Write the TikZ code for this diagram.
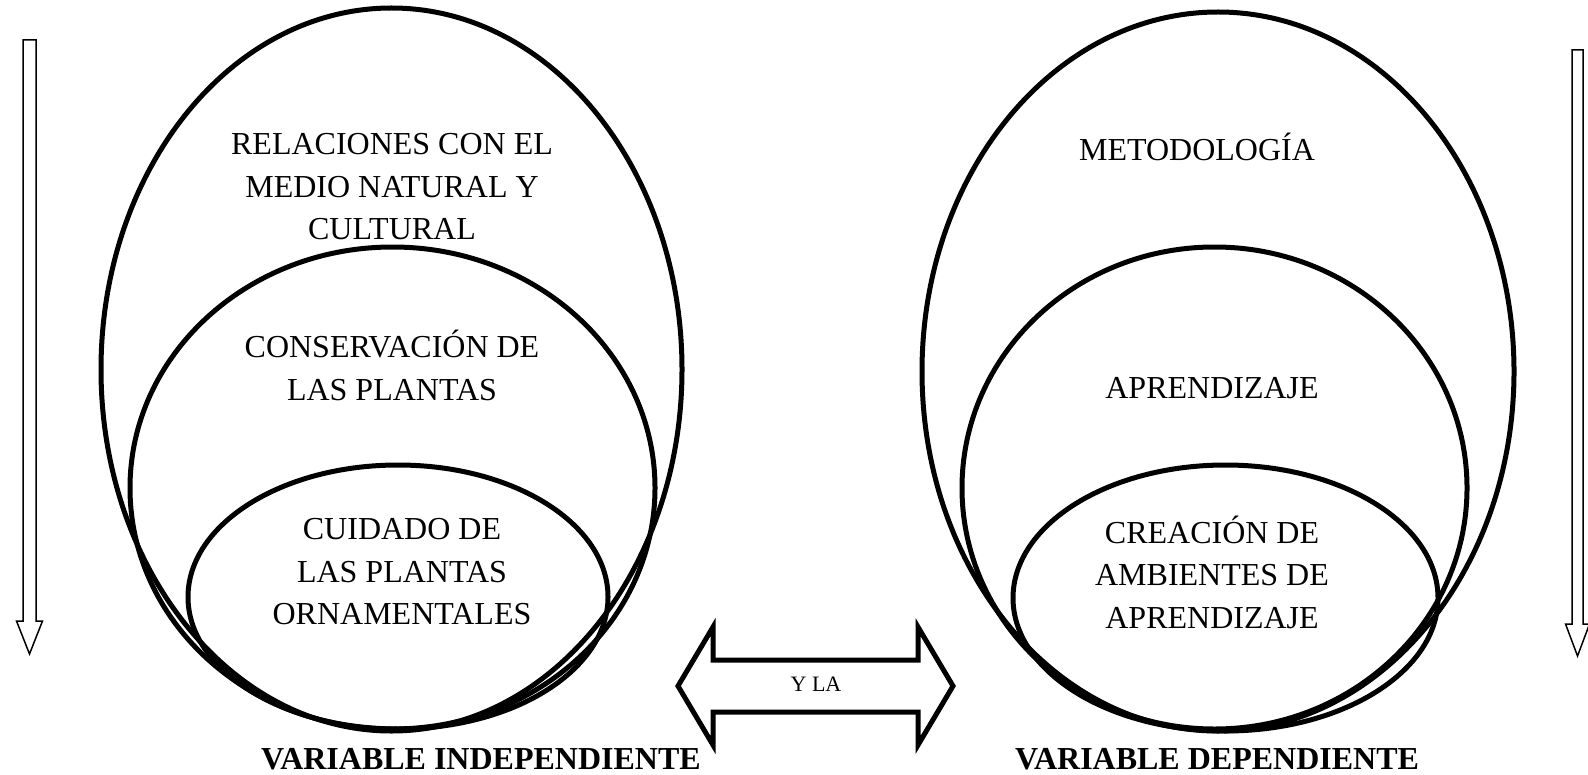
\documentclass[tikz,border=0pt]{standalone}
\usepackage{fontspec}
\setmainfont{Liberation Serif}
\usetikzlibrary{shapes.geometric}
\begin{document}
\begin{tikzpicture}[x=0.5pt,y=-0.5pt,
  ell/.style={draw,ellipse,line width=2.5pt,inner sep=0pt},
  lbl/.style={align=center,font=\fontsize{16}{21.25}\selectfont,inner sep=0pt},
  varlbl/.style={font=\fontsize{16}{20}\selectfont\bfseries,inner sep=0pt},
  thinarrow/.style={draw,line width=0.75pt,line join=miter},
  bigarrow/.style={draw,line width=2.5pt,line join=miter},
  smalllbl/.style={font=\fontsize{11}{13}\selectfont,inner sep=0pt}]
\useasboundingbox (0,0) rectangle (1588,775);
\clip (0,0) rectangle (1588,775);

% left ellipses
\node[ell,minimum width=290.5pt,minimum height=361.5pt] (lo) at (391.5,369.5) {};
\node[ell,minimum width=262.5pt,minimum height=241pt] (lm) at (392.5,488) {};
\node[ell,minimum width=210pt,minimum height=132pt] (li) at (398,597) {};

% right ellipses
\node[ell,minimum width=296pt,minimum height=359.5pt] (ro) at (1218,371.5) {};
\node[ell,minimum width=252.5pt,minimum height=241pt] (rm) at (1214.5,488) {};
\node[ell,minimum width=212.5pt,minimum height=133pt] (ri) at (1225.5,598) {};

% texts
\node[lbl] (tlo) at (392,187) {RELACIONES CON EL\\MEDIO NATURAL Y\\CULTURAL};
\node[lbl] (tlm) at (392,365.5) {CONSERVACIÓN DE\\LAS PLANTAS};
\node[lbl] (tli) at (402,572) {CUIDADO DE\\LAS PLANTAS\\ORNAMENTALES};
\node[lbl] (tro) at (1197,147) {METODOLOGÍA};
\node[lbl] (trm) at (1212,388) {APRENDIZAJE};
\node[lbl] (tri) at (1212,572) {CREACIÓN DE\\AMBIENTES DE\\APRENDIZAJE};

\node[varlbl] (vi) at (481,759) {VARIABLE INDEPENDIENTE};
\node[varlbl] (vd) at (1217,759) {VARIABLE DEPENDIENTE};

% double arrow
\draw[bigarrow] (678,686) -- (713,627) -- (713,660) -- (918,660) -- (918,627)
  -- (953,686) -- (918,745) -- (918,712) -- (713,712) -- (713,745) -- cycle;
\node[smalllbl] (yla) at (816,684) {Y LA};

% left vertical arrow
\draw[thinarrow] (23,40) -- (36,40) -- (36,621) -- (42.5,621) -- (29.5,654)
  -- (16.5,621) -- (23,621) -- cycle;
% right vertical arrow
\draw[thinarrow] (1572,50) -- (1583,50) -- (1583,624) -- (1589.5,624) -- (1577.5,656)
  -- (1565.5,624) -- (1572,624) -- cycle;
\end{tikzpicture}
\end{document}
